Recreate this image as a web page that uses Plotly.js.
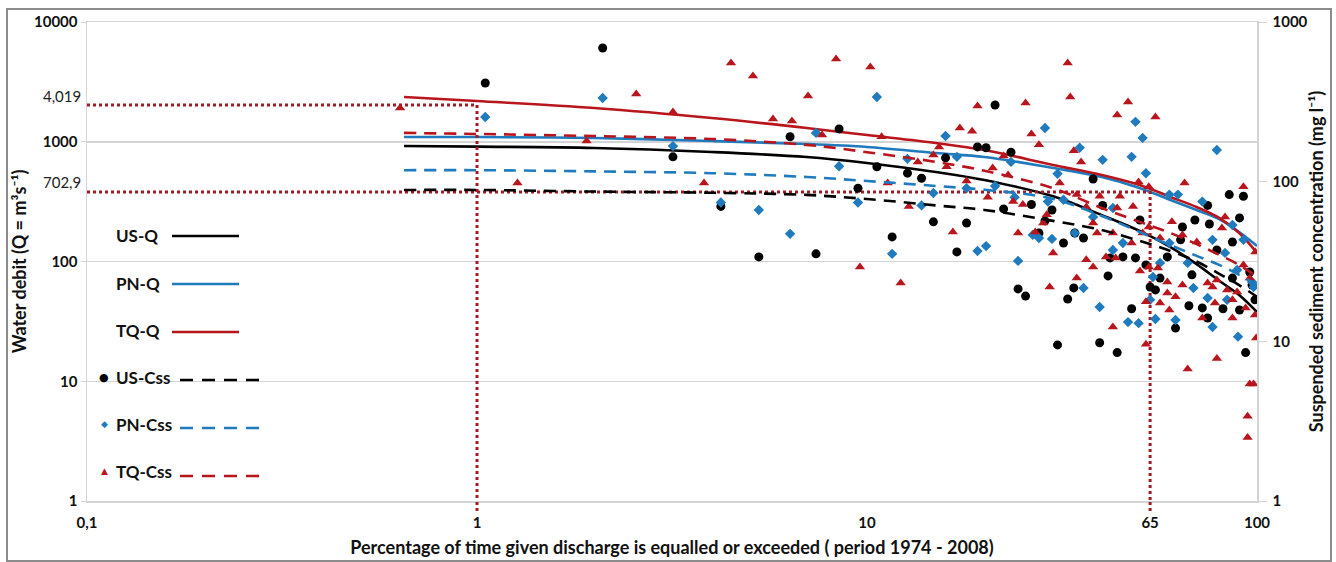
<!DOCTYPE html>
<html><head><meta charset="utf-8">
<script src="https://cdn.plot.ly/plotly-3.0.1.min.js"></script>
<style>html,body{margin:0;padding:0;background:#fff}#chart{width:1336px;height:562px}</style>
</head><body><div id="chart"></div>
<script>
// ---- fitted curves (percentage of time vs value) ----
const curvePct = [0.65,1,2,4,7,10,15,20,30,40,50,60,70,80,90,100];
const usQ   = [922,910,887,821,746,665,559,479,350,244,180,132,95,69,52.5,37.8];
const pnQ   = [1096,1096,1074,1014,958,904,805,746,604,508,411,326,269,226,176,135];
const tqQ   = [2365,2190,1914,1578,1303,1138,977,853,640,527,435,346,285,231,173,118];
const usCss = [88.7,88.7,86.7,85.2,82.6,77.9,71,66.5,56.8,49.8,42.6,36.8,31.6,26.5,22.5,19];
const pnCss = [118,118,116,113,107,101,94,89,78,61,48.4,40,34.3,30.1,26.1,22.5];
const tqCss = [202,199,193,185,170,153,133,117,91,68.4,56,47.7,40.6,34.8,30.1,25.3];

// ---- observed suspended sediment concentrations ----
const usPct = [1.05,2.10,3.18,4.22,5.28,7.40,6.35,8.48,9.48,10.6,
 11.6,21.3,19.2,20.2,23.4,15.9,12.7,13.8,14.8,18.0,
 17.0,22.4,24.4,25.5,30.8,26.4,29.8,28.6,27.6,31.9,
 32.7,38.0,84.9,92.3,40.2,50.1,74.7,90.2,69.3,75.5,
 64.4,34.1,35.9,86.5,78.9,63.7,42.0,45.3,48.8,51.9,
 58.9,68.1,53.2,54.9,56.4,41.5,33.9,47.7,66.9,72.4,
 81.8,74.7,61.8,98.8,90.2,95.8,97.1,86.5,39.5,43.8,
 93.5];
const usConc = [415,687,143,70,33.8,35.3,191,214,91,124,
 45.1,302,165,163,153,141,113,105,56,55.1,
 36.3,67.5,21.3,19.2,9.5,72,66.5,56.8,47.7,41.3,
 18.4,104,83,81,71,57.5,71,59.3,57.5,54.3,
 52,47.7,44.4,41.9,37.3,43.2,33.3,33.8,33.3,30.1,
 33.8,26.1,21.9,21,24.9,25.7,21.6,16,16.7,16.2,
 16,14,12.1,18.2,15.7,27.2,22.5,24.9,9.8,8.5,
 8.5];
const pnPct = [1.05,2.10,3.18,4.22,5.28,6.35,7.40,8.48,9.48,10.6,
 11.6,15.9,28.6,12.7,17.0,23.4,30.8,14.8,18.0,21.3,
 13.8,19.2,20.2,24.4,26.6,27.6,29.8,23.9,29.1,31.9,
 35.1,40.2,47.7,48.8,50.9,51.9,78.9,59.6,62.7,72.4,
 86.5,34.1,42.7,38.0,45.3,42.7,54.1,56.4,59.6,66.4,
 68.7,74.7,83.8,88.9,97.1,98.0,35.9,39.5,46.7,49.7,
 54.9,61.8,76.9,89.4,53.2,76.9,82.8,92.3];
const pnConc = [254,334,167,74,66.5,47.1,202,125,74,339,
 35.3,193,217,139,143,133,112,85,91,94,
 71,36.8,39.5,31.9,46.4,44.4,43.8,80,75,77,
 163,137,143,237,188,113,158,83,83,75,
 53.5,47.7,68.4,60.1,41.3,37.3,25.3,31,41.3,31,
 21.6,18.7,18.2,28,23.5,21.9,21.6,16.4,13.2,13,
 13.8,13.6,12.3,10.7,18.2,43.2,35.8,43.2];
const tqPct = [0.635,1.27,2.56,3.18,1.91,3.82,4.48,5.10,5.74,6.42,
 7.06,7.67,8.33,10.2,10.9,9.59,11.3,19.2,17.3,18.6,
 25.5,26.4,27.6,32.7,33.2,15.3,14.8,13.5,16.0,21.0,
 23.0,18.0,31.2,22.4,12.8,16.6,12.2,20.4,23.7,25.1,
 24.4,28.9,28.3,27.0,30.0,29.4,46.7,43.8,54.9,33.9,
 35.4,49.7,52.8,65.2,92.3,39.5,44.5,34.5,48.1,43.8,
 36.5,38.0,38.9,42.7,47.7,50.9,52.8,56.4,60.5,64.4,
 70.1,82.8,81.3,99,95.8,92.3,36.5,38.0,41.0,43.4,
 50.1,52.8,55.7,58.9,64.4,74.7,76.9,78.9,83.8,88.9,
 58.9,61.8,34.5,51.9,56.4,78.0,86.5,72.4,86.5,93.5,
 98.8,42.7,51.9,78.9,66.4,95.8,98.0,94.6,94.6,99.5,
 59.6];
const tqConc = [289,98,354,273,180,98,553,459,247,240,
 344,196,586,522,191,29.2,98,298,217,207,
 311,199,170,553,339,165,147,133,124,122,
 110,101,98,145,70,48.4,23.2,80,75,72,
 47.7,62,55.1,48.4,35.8,21.9,315,262,254,156,
 133,99.5,93,98,93,81,81,83,70,68.4,
 69.5,55.1,47.7,47.7,41.3,47.7,52,44.4,56,46.4,
 41.9,60.1,51.3,36.3,24.9,30.1,32.4,29.2,33.8,33.3,
 27.6,29.2,28.8,23.5,22.5,23.2,21.9,24.2,21,20.4,
 20.1,19,24.9,17.7,17.4,17.4,18.2,14,14,16.2,
 14.6,12.3,9.6,7.8,6.7,5.4,5.4,3.4,2.5,10.5,
 15.7];

// ---- reference (dotted) lines; the "65" mark sits where the picture draws it ----
const refPct = [1, 53.2];
const refQ = [2028, 380];
const refLabels = ['4,019', '702,9'];
const pctMin = 0.1, qMin = 1;

// ---- ticks ----
const xTickVals = [0.1, 1, 10, 53.2, 100];
const xTickText = ['0,1', '1', '10', '65', '100'];
const yTickVals = [1, 10, 100, 1000, 10000];
const y2TickVals = [1, 10, 100, 1000];

// ---- legend ----
const legendNames = ['US-Q', 'PN-Q', 'TQ-Q', 'US-Css', 'PN-Css', 'TQ-Css'];

const BLACK = '#000000', BLUE = '#1f7bbd', RED = '#b9151d', DOT = '#a01b25';
const FONT = 'Lato, "Open Sans", sans-serif';

const traces = [];
function curve(y, color, dash, axis) {
  traces.push({x: curvePct, y: y, yaxis: axis, mode: 'lines', showlegend: false, hoverinfo: 'skip',
    line: {color: color, width: 2.6, dash: dash, shape: 'spline', smoothing: 1}});
}
function pts(x, y, color, symbol, size) {
  traces.push({x: x, y: y, yaxis: 'y2', mode: 'markers', showlegend: false,
    marker: {color: color, symbol: symbol, size: size, line: {width: 0}}});
}
// Q curves (left axis)
curve(usQ, BLACK, 'solid', 'y');
curve(pnQ, BLUE, 'solid', 'y');
curve(tqQ, RED, 'solid', 'y');
// reference dotted lines
traces.push({x: [pctMin, refPct[0], refPct[0], null, pctMin, refPct[1], refPct[1]],
  y: [refQ[0], refQ[0], qMin, null, refQ[1], refQ[1], qMin], yaxis: 'y', mode: 'lines',
  showlegend: false, hoverinfo: 'skip', line: {color: DOT, width: 3, dash: '3px,3px'}});
// scatter (right axis)
pts(usPct, usConc, BLACK, 'circle', 9);
pts(pnPct, pnConc, BLUE, 'diamond', 8);
pts(tqPct, tqConc, RED, 'triangle-up', 9);
// Css curves (right axis)
curve(usCss, BLACK, '12px,8px', 'y2');
curve(pnCss, BLUE, '12px,8px', 'y2');
curve(tqCss, RED, '12px,8px', 'y2');

// layout helpers: page pixels -> paper fraction
const L = 87, R = 1257, T = 22, B = 501;
const px = v => (v - L) / (R - L);
const py = v => (B - v) / (B - T);

const annotations = [];
const shapes = [];
refLabels.forEach((t, i) => annotations.push({xref: 'paper', yref: 'y', x: px(83), y: Math.log10(refQ[i]),
  xanchor: 'right', yanchor: 'middle', yshift: 9 + i, text: t, showarrow: false,
  font: {family: FONT, size: 15, color: '#222'}}));
// dotted drops continue a little below the axis, as in the picture
refPct.forEach(p => shapes.push({type: 'line', xref: 'x', yref: 'paper', x0: p, x1: p, y0: py(511), y1: 0,
  line: {color: DOT, width: 3, dash: '3px,3px'}}));

const legendColors = [BLACK, BLUE, RED, BLACK, BLUE, RED];
const legendY = [235, 283, 330, 377, 424, 471];
const lineY = [236, 284, 332, 380, 428, 476];
const glyphs = ['', '', '', '●', '◆', '▲'];
legendNames.forEach((n, i) => {
  annotations.push({xref: 'paper', yref: 'paper', x: px(114), y: py(legendY[i]), xanchor: 'left', yanchor: 'middle',
    text: n, showarrow: false, font: {family: FONT, size: 17, weight: 'bold', color: '#111'}});
  if (glyphs[i]) annotations.push({xref: 'paper', yref: 'paper', x: px(104), y: py(legendY[i]), xanchor: 'center', yanchor: 'middle',
    text: glyphs[i], showarrow: false, font: {family: 'DejaVu Sans', size: i === 3 ? 11 : 9, color: legendColors[i]}});
  const dashed = i >= 3;
  shapes.push({type: 'line', xref: 'paper', yref: 'paper', x0: px(dashed ? 180 : 172), x1: px(dashed ? 263 : 239),
    y0: py(lineY[i]), y1: py(lineY[i]), line: {color: legendColors[i], width: 2.6, dash: dashed ? '13px,9px' : 'solid'}});
});
// outer frame
shapes.push({type: 'rect', xref: 'paper', yref: 'paper', x0: px(7), x1: px(1331), y0: py(561), y1: py(9),
  line: {color: '#8c8c8c', width: 2}, layer: 'below'});

const tickFont = {family: FONT, size: 15, weight: 'bold', color: '#111'};
const titleFont = {family: FONT, size: 18, weight: 'bold', color: '#111'};
const layout = {
  width: 1336, height: 562, margin: {l: L, r: 1336 - R, t: T, b: 562 - B},
  paper_bgcolor: '#fff', plot_bgcolor: '#fff', showlegend: false,
  font: {family: FONT},
  xaxis: {type: 'log', range: [-1, 2], tickvals: xTickVals, ticktext: xTickText, showgrid: false,
    showline: true, linecolor: '#d4d4d4', linewidth: 1.5, mirror: true, ticks: '', zeroline: false,
    tickfont: tickFont, ticklabelstandoff: 7,
    title: {text: 'Percentage of time given discharge is equalled or exceeded ( period 1974 - 2008)',
      font: titleFont, standoff: 12}},
  yaxis: {type: 'log', range: [0, 4], tickvals: yTickVals, ticktext: yTickVals.map(String),
    showgrid: true, gridcolor: '#d4d4d4', gridwidth: 1.5, showline: true, linecolor: '#d4d4d4', linewidth: 1.5,
    ticks: 'outside', ticklen: 5, tickcolor: '#d4d4d4', tickfont: tickFont, zeroline: false,
    title: {text: 'Water debit (Q = m³s⁻¹)', font: titleFont, standoff: 2}},
  yaxis2: {type: 'log', range: [0, 3], overlaying: 'y', side: 'right', tickvals: y2TickVals, ticktext: y2TickVals.map(String),
    showgrid: false, showline: true, linecolor: '#d4d4d4', linewidth: 1.5, ticks: 'outside', ticklen: 8,
    tickcolor: '#d4d4d4', tickfont: tickFont, zeroline: false, ticklabelstandoff: 3,
    title: {text: 'Suspended sediment concentration (mg l⁻¹)', font: titleFont, standoff: 4}},
  annotations: annotations, shapes: shapes
};
Plotly.newPlot('chart', traces, layout, {displayModeBar: false, staticPlot: true});
</script></body></html>
